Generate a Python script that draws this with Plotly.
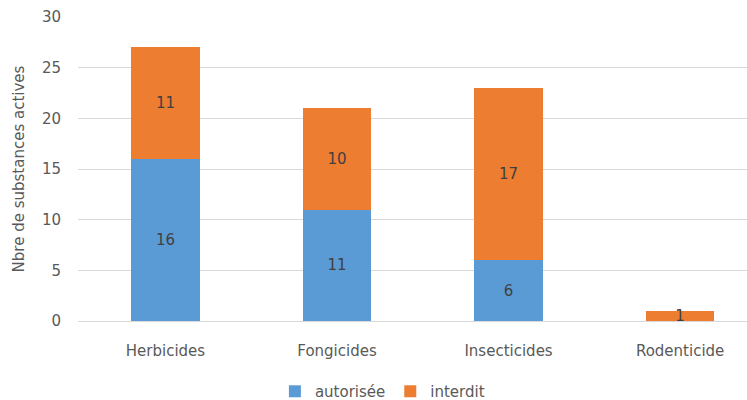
import plotly.graph_objects as go

categories = ["Herbicides", "Fongicides", "Insecticides", "Rodenticide"]
autorisee = [16, 11, 6, 0]
interdit = [11, 10, 17, 1]
y_ticks = [0, 5, 10, 15, 20, 25, 30]

FONT = "'DejaVu Sans', sans-serif"
GRAY = "#595959"

def labels(vals):
    return [str(v) if v else "" for v in vals]

fig = go.Figure()
fig.add_trace(go.Bar(
    name="autorisée", x=categories, y=autorisee,
    marker=dict(color="#5B9BD5", line=dict(width=0)),
    text=labels(autorisee), textposition="inside", insidetextanchor="middle",
    constraintext="none", textangle=0,
    textfont=dict(color="#404040", size=15, family=FONT),
    width=0.4,
))
fig.add_trace(go.Bar(
    name="interdit", x=categories, y=interdit,
    marker=dict(color="#ED7D31", line=dict(width=0)),
    text=labels(interdit), textposition="inside", insidetextanchor="middle",
    constraintext="none", textangle=0,
    textfont=dict(color="#404040", size=15, family=FONT),
    width=0.4,
))

fig.update_layout(
    barmode="stack",
    width=747, height=400,
    margin=dict(l=78, r=0, t=17, b=79, autoexpand=False),
    paper_bgcolor="white", plot_bgcolor="white",
    font=dict(family=FONT, color=GRAY, size=15),
    showlegend=True,
    legend=dict(orientation="h", x=0.455, xanchor="center", y=-0.232, yanchor="middle",
                font=dict(size=15, color=GRAY, family=FONT), itemwidth=30,
                traceorder="normal"),
    xaxis=dict(range=[-0.51, 3.39], showgrid=False, showline=False, ticks="",
               ticklabelstandoff=19, automargin=False,
               tickfont=dict(size=15, color=GRAY, family=FONT)),
    yaxis=dict(range=[0, 30], tickvals=y_ticks, showgrid=True, gridcolor="#D9D9D9",
               gridwidth=1, zeroline=True, zerolinecolor="#D9D9D9", zerolinewidth=1,
               showline=False, ticks="", ticklen=0, ticklabelstandoff=16,
               automargin=False,
               tickfont=dict(size=15, color=GRAY, family=FONT),
               title=dict(text="Nbre de substances actives", standoff=13,
                          font=dict(size=15, color=GRAY, family=FONT))),
    bargap=0.6,
)

fig.write_html("out.html")
